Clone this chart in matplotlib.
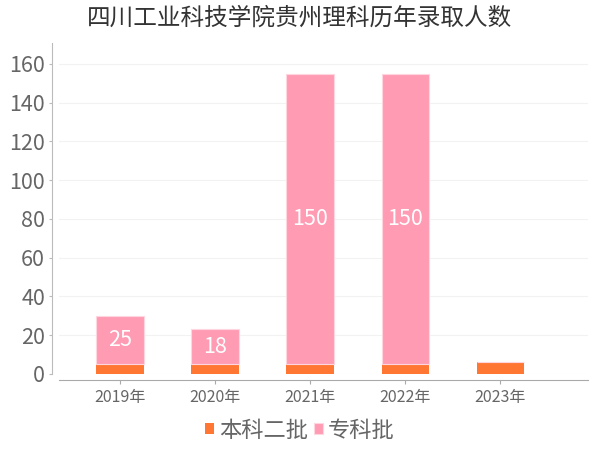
import numpy as np
import matplotlib
matplotlib.use("Agg")
import matplotlib.pyplot as plt

plt.rcParams['font.family'] = ['Noto Sans CJK SC', 'DejaVu Sans']

years = ['2019年', '2020年', '2021年', '2022年', '2023年']
benke2 = [5, 5, 5, 5, 6]          # 本科二批
zhuanke = [25, 18, 150, 150, 0]   # 专科批

c_orange = '#ff7733'
c_pink = '#ff9cb4'
grey = '#666666'

fig = plt.figure(figsize=(6, 4.5), dpi=100)
ax = fig.add_axes([59 / 600, (450 - 374) / 450, (588 - 59) / 600, (374 - 43) / 450])

x = np.arange(len(years))
w = 0.5
ax.bar(x, benke2, w, color=c_orange, label='本科二批', zorder=3)
ax.bar(x, zhuanke, w, bottom=benke2, color=c_pink, label='专科批',
       edgecolor='#ffd6e0', linewidth=0.8, zorder=3)

for xi, b, v in zip(x, benke2, zhuanke):
    if v > 0:
        ax.text(xi, b + v / 2, str(v), ha='center', va='center',
                color='white', fontsize=15.5, zorder=4)

ax.set_xlim(-0.64, 4.92)
ax.set_ylim(0, 170.8)
ax.set_yticks(np.arange(0, 161, 20))
ax.set_xticks(x)
ax.set_xticklabels(years)

ax.grid(axis='y', color='#f2f2f2', linewidth=0.8, zorder=0)
for s in ['top', 'right']:
    ax.spines[s].set_visible(False)
ax.spines['left'].set_position(('outward', 5))
ax.spines['bottom'].set_position(('outward', 4))
ax.spines['left'].set_color('#bbbbbb')
ax.spines['bottom'].set_color('#aaaaaa')

ax.tick_params(axis='y', length=2, color='#bbbbbb', labelsize=15.5,
               labelcolor=grey, pad=3)
ax.tick_params(axis='x', length=3, color='#aaaaaa', labelsize=11.5,
               labelcolor=grey, pad=4)

fig.text(0.5, 0.96, '四川工业科技学院贵州理科历年录取人数', ha='center',
         va='center', fontsize=17, color='#333333')

fig.legend(loc='center', bbox_to_anchor=(0.5, 0.044), ncol=2, frameon=False,
           fontsize=16, labelcolor=grey, handlelength=0.4, handleheight=0.4,
           handletextpad=0.2, columnspacing=0.3)

fig.savefig('out.png', dpi=100)
